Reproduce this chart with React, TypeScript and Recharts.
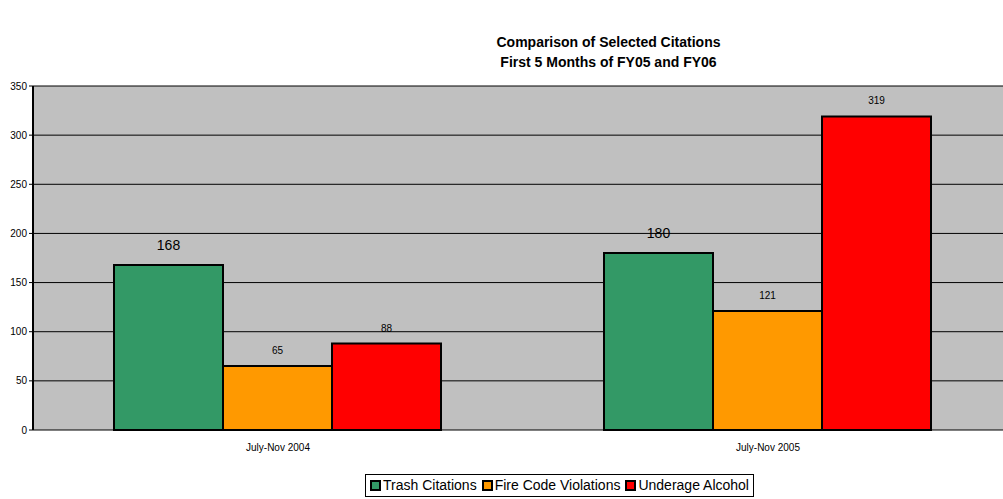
import React from 'react';
import { BarChart, Bar, XAxis, YAxis, CartesianGrid, Legend, LabelList } from 'recharts';

// 期間ごとの値
const periods = ['July-Nov 2004', 'July-Nov 2005'];
const trash = [168, 180];
const fireCode = [65, 121];
const alcohol = [88, 319];
const yTicks = [0, 50, 100, 150, 200, 250, 300, 350];
const boundaryTicks = [0, 1, 2];

const series = [
  { key: 'trash', name: 'Trash Citations', color: '#339966', labelSize: 14 },
  { key: 'fire', name: 'Fire Code Violations', color: '#FF9900', labelSize: 10 },
  { key: 'alcohol', name: 'Underage Alcohol', color: '#FF0000', labelSize: 10 },
];

const data = periods.map((p, i) => ({
  period: p,
  trash: trash[i],
  fire: fireCode[i],
  alcohol: alcohol[i],
}));

const font = 'Arial, "Liberation Sans", sans-serif';

const makeLabel = (size: number) => (props: any) => {
  const { x, y, width, value } = props;
  return (
    <text
      x={x + width / 2}
      y={y - (size > 12 ? 15 : 12)}
      textAnchor="middle"
      fontSize={size}
      fontFamily={font}
      fill="#000"
    >
      {value}
    </text>
  );
};

const LegendBox = () => (
  <div
    style={{
      display: 'inline-flex',
      border: '1px solid #000',
      padding: '2px 4px 3px 4px',
      fontSize: 14,
      fontFamily: font,
      background: '#fff',
      gap: 5,
      whiteSpace: 'nowrap',
    }}
  >
    {series.map((s) => (
      <span key={s.key} style={{ display: 'inline-flex', alignItems: 'center', gap: 2 }}>
        <span
          style={{
            width: 7,
            height: 7,
            background: s.color,
            border: '2px solid #000',
            display: 'inline-block',
          }}
        />
        {s.name}
      </span>
    ))}
  </div>
);

const App = () => {
  return (
    <div style={{ position: 'absolute', left: 0, top: 0, width: 1003, height: 499, background: '#fff', overflow: 'hidden' }}>
      <div
        style={{
          position: 'absolute',
          left: 0,
          width: 1217,
          top: 32,
          textAlign: 'center',
          fontFamily: font,
          fontWeight: 'bold',
          fontSize: 14,
          lineHeight: '20px',
        }}
      >
        Comparison of Selected Citations
        <br />
        First 5 Months of FY05 and FY06
      </div>
      <BarChart
        width={1013}
        height={499}
        data={data}
        margin={{ top: 86, right: 0, bottom: 15, left: 0 }}
        barCategoryGap={81}
        barGap={0}
      >
        <CartesianGrid vertical={false} stroke="#000" fill="#C0C0C0" fillOpacity={1} />
        <XAxis
          xAxisId="bounds"
          type="number"
          domain={[0, 2]}
          ticks={boundaryTicks}
          tick={false}
          tickLine={{ stroke: '#000' }}
          tickSize={4}
          axisLine={{ stroke: '#000' }}
          height={0}
        />
        <XAxis
          dataKey="period"
          tickLine={false}
          axisLine={false}
          tickMargin={8}
          tick={{ fontSize: 10, fill: '#000', fontFamily: font }}
          height={30}
        />
        <YAxis
          domain={[0, 350]}
          ticks={yTicks}
          width={33}
          axisLine={{ stroke: '#000', strokeWidth: 2 }}
          tickLine={{ stroke: '#000' }}
          tickSize={4}
          tick={{ fontSize: 10, fill: '#000', fontFamily: font }}
          interval={0}
        />
        <Legend
          verticalAlign="bottom"
          align="center"
          content={() => <LegendBox />}
          wrapperStyle={{ bottom: 1, left: 365, width: 'auto', height: 24 }}
        />
        {series.map((s) => (
          <Bar
            key={s.key}
            dataKey={s.key}
            name={s.name}
            fill={s.color}
            stroke="#000"
            strokeWidth={2}
            isAnimationActive={false}
          >
            <LabelList dataKey={s.key} content={makeLabel(s.labelSize)} />
          </Bar>
        ))}
      </BarChart>
    </div>
  );
};

export default App;
